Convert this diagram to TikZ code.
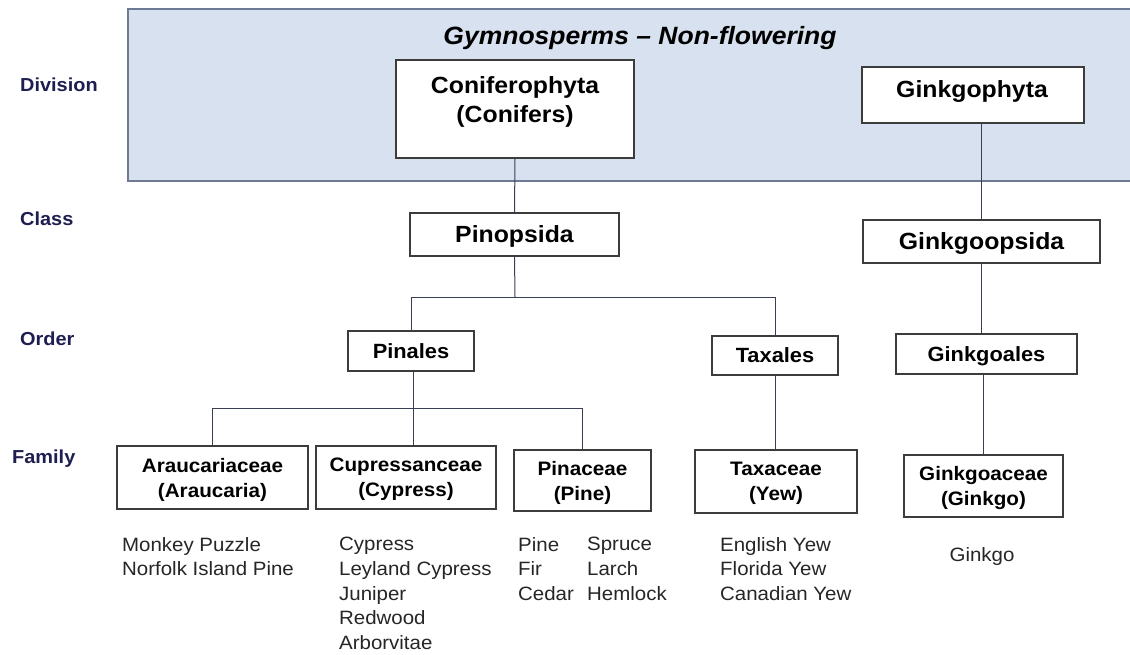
\documentclass[tikz,border=0pt]{standalone}
\usepackage{fontspec}
\setmainfont{Liberation Sans}[FakeStretch=1.06]
\definecolor{bandfill}{HTML}{D8E1F0}
\definecolor{bandline}{HTML}{6E7A94}
\definecolor{boxline}{HTML}{3C3C3C}
\definecolor{wire}{HTML}{3B3F55}
\definecolor{rank}{HTML}{1E1E50}
\begin{document}
\begin{tikzpicture}[x=1pt,y=-1pt,
  box/.style={draw=boxline, line width=1.2pt, fill=white, inner sep=0pt, align=center, text depth=0pt},
  big/.style={box, font=\bfseries\fontsize{23.4}{29}\selectfont},
  mid/.style={box, font=\bfseries\fontsize{20.6}{25}\selectfont},
  fam/.style={box, font=\bfseries\fontsize{19.5}{25}\selectfont},
  boxtext/.style={inner sep=0pt, align=center, text depth=0pt, font=\bfseries\fontsize{23.4}{29}\selectfont},
  ranklabel/.style={anchor=west, inner sep=0pt, text=rank, font=\bfseries\fontsize{18.8}{22}\selectfont},
  members/.style={anchor=north west, inner sep=0pt, align=left, text=black!85, font=\fontsize{19.3}{24.7}\selectfont},
  wires/.style={draw=wire, line width=1pt}]
\useasboundingbox (0,0) rectangle (1130,654);
\fill[white] (0,0) rectangle (1130,654);

% division band
\path[fill=bandfill] (128,9) rectangle (1132,181);
\draw[bandline, line width=1.2pt] (1132,9) -- (128,9) -- (128,181) -- (1132,181);
\node[inner sep=0pt, text depth=0pt, font=\bfseries\itshape\fontsize{25}{30}\selectfont] (title) at (640,35) {Gymnosperms -- Non-flowering};

% rank labels
\node[ranklabel] (rdiv) at (20,85) {Division};
\node[ranklabel] (rcls) at (20,219) {Class};
\node[ranklabel] (rord) at (20,339) {Order};
\node[ranklabel] (rfam) at (12,459) {Family};

% division
\node[box, minimum width=238pt, minimum height=98pt] (coni) at (515,109) {};
\node[boxtext] (conit) at (515,100) {Coniferophyta\\(Conifers)};
\node[box, minimum width=222pt, minimum height=56pt] (gphy) at (973,95) {};
\node[boxtext] (gphyt) at (972,89) {Ginkgophyta};

% class
\node[big, minimum width=209pt, minimum height=43pt] (pinop) at (514.5,234.5) {Pinopsida};
\node[big, minimum width=237pt, minimum height=43pt] (gopsida) at (981.5,241.5) {Ginkgoopsida};

% order
\node[mid, minimum width=126pt, minimum height=40pt] (pinales) at (411,351) {Pinales};
\node[mid, minimum width=126pt, minimum height=39pt] (taxales) at (775,355.5) {Taxales};
\node[mid, minimum width=181pt, minimum height=40pt] (gales) at (986.5,354) {Ginkgoales};

% family
\node[fam, minimum width=191pt, minimum height=63pt] (arau) at (212.5,477.5) {Araucariaceae\\(Araucaria)};
\node[fam, minimum width=180pt, minimum height=63pt] (cupr) at (406,477.5) {Cupressanceae\\(Cypress)};
\node[fam, minimum width=137pt, minimum height=61pt] (pinac) at (582.5,480.5) {Pinaceae\\(Pine)};
\node[fam, minimum width=162pt, minimum height=63pt] (taxac) at (776,481.5) {Taxaceae\\(Yew)};
\node[fam, minimum width=159pt, minimum height=62pt] (gacea) at (983.5,486) {Ginkgoaceae\\(Ginkgo)};

% connectors
\coordinate (busA) at (515,297);
\coordinate (busB) at (413,408);
\draw[wires] (coni.south) -- (pinop.north);
\draw[wires] (pinop.south) -- (busA);
\draw[wires] (pinales.north) |- (taxales.north |- busA) -- (taxales.north);
\draw[wires] (pinales.south -| busB) -- (cupr.north -| busB);
\draw[wires] (arau.north) |- (pinac.north |- busB) -- (pinac.north);
\draw[wires] (taxales.south) -- (taxales.south |- taxac.north);
\draw[wires] (gopsida.north |- gphy.south) -- (gopsida.north);
\draw[wires] (gopsida.south) -- (gopsida.south |- gales.north);
\draw[wires] (gacea.north |- gales.south) -- (gacea.north);

% member lists
\node[members] (arauM) at (122,537) {Monkey Puzzle\\Norfolk Island Pine};
\node[members] (cuprM) at (339,537) {Cypress\\Leyland Cypress\\Juniper\\Redwood\\Arborvitae};
\node[members] (pinacMa) at (518,537) {Pine\\Fir\\Cedar};
\node[members] (pinacMb) at (587,537) {Spruce\\Larch\\Hemlock};
\node[members] (taxacM) at (720,537) {English Yew\\Florida Yew\\Canadian Yew};
\node[inner sep=0pt, text=black!85, font=\fontsize{19.3}{24.7}\selectfont] (gaceaM) at (982,557) {Ginkgo};
\end{tikzpicture}
\end{document}
